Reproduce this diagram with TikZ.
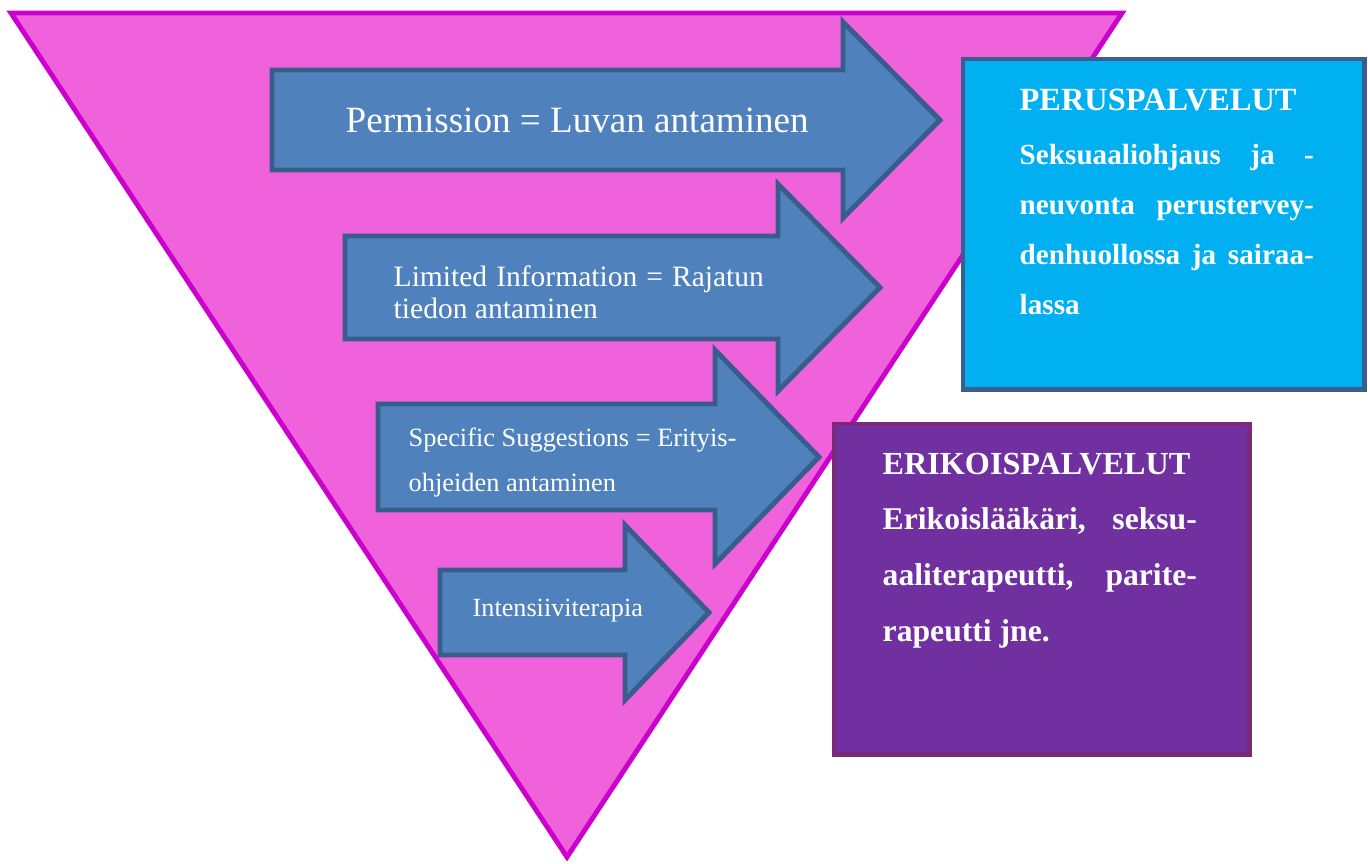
\documentclass[tikz,border=0pt]{standalone}
\usepackage{fontspec}
\setmainfont{Liberation Serif}
\usepackage{xcolor}
\usepackage{tikz}
\usetikzlibrary{positioning}
\setlength{\parindent}{0pt}
\definecolor{pinkfill}{HTML}{F062DC}
\definecolor{pinkline}{HTML}{CC00CC}
\definecolor{arrowfill}{HTML}{4F81BD}
\definecolor{arrowline}{HTML}{385D8A}
\definecolor{perusfill}{HTML}{00B0F0}
\definecolor{perusline}{HTML}{3B5E8C}
\definecolor{erikfill}{HTML}{7030A0}
\definecolor{erikline}{HTML}{7A2A78}
\tikzstyle{funnel} = [draw=pinkline, fill=pinkfill, line width=1.4pt]
\tikzstyle{pointerpath} = [draw=arrowline, fill=arrowfill, line width=1.4pt]
\tikzstyle{servbox} = [rectangle, line width=1.4pt, anchor=north west, inner sep=0pt, outer sep=0pt]
\tikzstyle{lbl} = [text=white, inner sep=0pt]
% one justified line of a block: width, text
\newcommand{\jline}[2]{\makebox[#1][s]{#2}}
% left, top, bottom, neck x, head top, head bottom, tip x
\newcommand{\pointer}[7]{%
  \draw[pointerpath] (#1,#2) -- (#4,#2) -- (#4,#5) -- (#7,{(#2+#3)/2})
    -- (#4,#6) -- (#4,#3) -- (#1,#3) -- cycle;}

\begin{document}
\begin{tikzpicture}[x=0.01cm,y=-0.01cm]
    \useasboundingbox (0,0) rectangle (1368,863);
    % Funnel
    \draw[funnel] (11,13) -- (1122,13) -- (567,857) -- cycle;
    % Arrows
    \pointer{272}{70}{170}{843}{22}{218}{940}
    \pointer{345}{236}{339}{778}{184}{391}{880}
    \pointer{378}{404}{510}{715}{350}{564}{819}
    \pointer{440}{570}{655}{625}{525}{700}{709}
    % Arrow texts
    \node[lbl, anchor=base west, font=\fontsize{10.55}{12}\selectfont] (perm) at (345,132)
        {Permission = Luvan antaminen};
    \node[lbl, anchor=north west, align=left,
        font=\fontsize{8.4}{9.1}\selectfont] (limited) at (393,265)
        {\jline{3.70cm}{Limited Information = Rajatun}\\ tiedon antaminen};
    \node[lbl, anchor=north west, align=left,
        font=\fontsize{7.5}{12.8}\selectfont] (specific) at (408,427)
        {Specific Suggestions = Erityis-\\ ohjeiden antaminen};
    \node[lbl, anchor=base west, font=\fontsize{7.45}{9}\selectfont] (intens) at (472,616)
        {Intensiiviterapia};
    % Service boxes
    \node[servbox, draw=perusline, fill=perusfill, minimum width=4.01cm,
        minimum height=3.30cm] (perus) at (963,59) {};
    \node[servbox, draw=erikline, fill=erikfill, minimum width=4.15cm,
        minimum height=3.30cm] (erik) at (834,424) {};
    \node[lbl, anchor=north west, align=left,
        font=\fontsize{8.3}{14.2}\selectfont\bfseries] (perustxt) at (1019,88)
        {{\fontsize{9.2}{14.2}\selectfont PERUSPALVELUT}\\[1.4pt]
         \jline{2.94cm}{Seksuaaliohjaus ja -}\\
         \jline{2.94cm}{neuvonta perustervey-}\\
         \jline{2.94cm}{denhuollossa ja sairaa-}\\
         lassa};
    \node[lbl, anchor=north west, align=left,
        font=\fontsize{9}{15.9}\selectfont\bfseries] (eriktxt) at (882,452)
        {{\fontsize{9.15}{15.9}\selectfont ERIKOISPALVELUT}\\
         \jline{3.14cm}{Erikoislääkäri, seksu-}\\
         \jline{3.14cm}{aaliterapeutti, parite-}\\
         rapeutti jne.};
\end{tikzpicture}
\end{document}
